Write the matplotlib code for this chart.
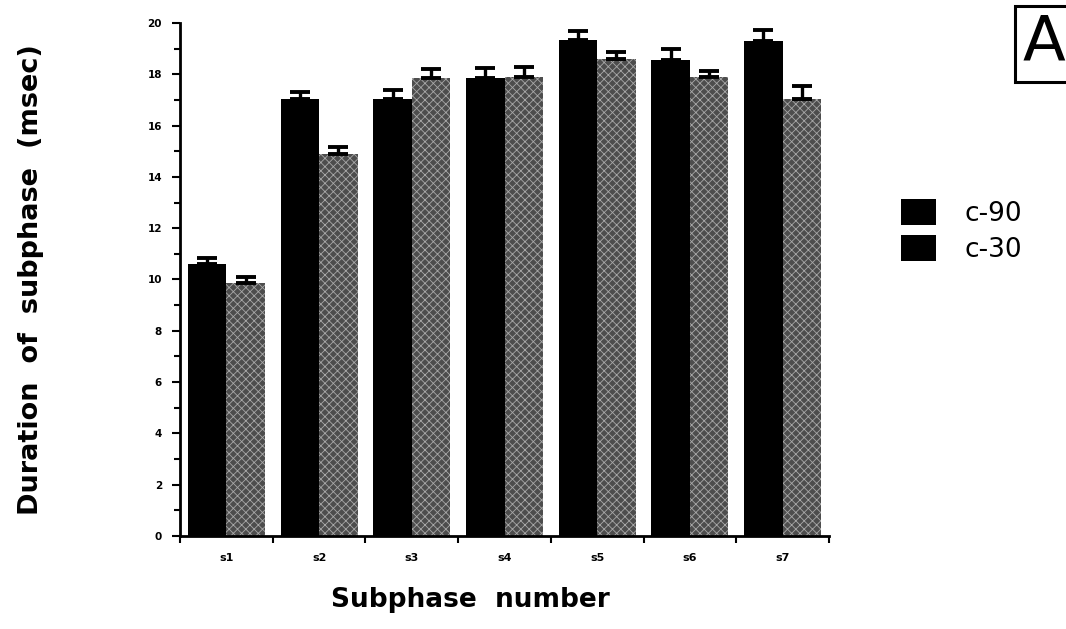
import numpy as np
import matplotlib
matplotlib.use('Agg')
from matplotlib import pyplot as plt
from matplotlib.patches import Patch

# values (msec)
subphases = ['s1', 's2', 's3', 's4', 's5', 's6', 's7']
c90_mean = [10.6, 17.05, 17.05, 17.85, 19.35, 18.55, 19.3]
c90_err = [0.25, 0.25, 0.33, 0.4, 0.32, 0.43, 0.43]
c30_mean = [9.85, 14.9, 17.85, 17.9, 18.6, 17.9, 17.05]
c30_err = [0.25, 0.28, 0.35, 0.37, 0.27, 0.23, 0.5]
series_names = ['c-90', 'c-30']

plt.rcParams['font.family'] = ['DejaVu Sans']
plt.rcParams['hatch.linewidth'] = 0.6

fig = plt.figure(figsize=(10.66, 6.29), dpi=100)
ax = fig.add_axes([0.1689, 0.1479, 0.6088, 0.8155])

x = np.arange(len(subphases))
w = 0.415
err_kw = dict(elinewidth=2.4, capsize=7, capthick=2.8, ecolor='black')
ax.bar(x - w / 2, c90_mean, w, color='black', linewidth=0,
       yerr=[np.zeros(len(x)), c90_err], error_kw=err_kw)
ax.bar(x + w / 2, c30_mean, w, facecolor='#4d4d4d', edgecolor='#a8a8a8',
       hatch='xxxx', linewidth=0,
       yerr=[np.zeros(len(x)), c30_err], error_kw=err_kw)

ax.set_xlim(-0.5, 6.5)
ax.set_ylim(0, 20)
ax.set_yticks(np.arange(0, 21, 2))
ax.set_yticks(np.arange(1, 20, 2), minor=True)
ax.set_xticks(np.arange(-0.5, 7, 1))
ax.set_xticklabels([])
ax.set_xticks(x, minor=True)
ax.set_xticklabels(subphases, minor=True, fontsize=8, fontweight='bold')
ax.tick_params(axis='x', which='minor', length=0, pad=12)
ax.tick_params(axis='x', which='major', length=5, width=1.5, direction='out')
ax.tick_params(axis='y', which='major', length=6, width=1.5, labelsize=7.5, pad=7)
ax.tick_params(axis='y', which='minor', length=4, width=1.5)
for lab in ax.get_yticklabels():
    lab.set_fontweight('bold')

for s in ['top', 'right']:
    ax.spines[s].set_visible(False)
for s in ['left', 'bottom']:
    ax.spines[s].set_linewidth(2)

ax.set_ylabel('Duration  of  subphase  (msec)', fontsize=19.5, fontweight='bold')
ax.yaxis.set_label_coords(-0.21, 0.5)
ax.set_xlabel('Subphase  number', fontsize=19, fontweight='bold')
ax.xaxis.set_label_coords(0.447, -0.1)

handles = [Patch(facecolor='black'), Patch(facecolor='black')]
fig.legend(handles, series_names, loc='upper left',
           bbox_to_anchor=(888 / 1066, 1 - 186 / 629), frameon=False,
           fontsize=19, handlelength=1.33, handleheight=1.15,
           handletextpad=1.05, labelspacing=0.3, borderpad=0)

fig.text(1023 / 1066, 1 - 44 / 629, 'A', fontsize=45, ha='left', va='center',
         bbox=dict(boxstyle='square,pad=0.13', facecolor='white',
                   edgecolor='black', linewidth=2.2))

fig.savefig('out.png', dpi=100)
